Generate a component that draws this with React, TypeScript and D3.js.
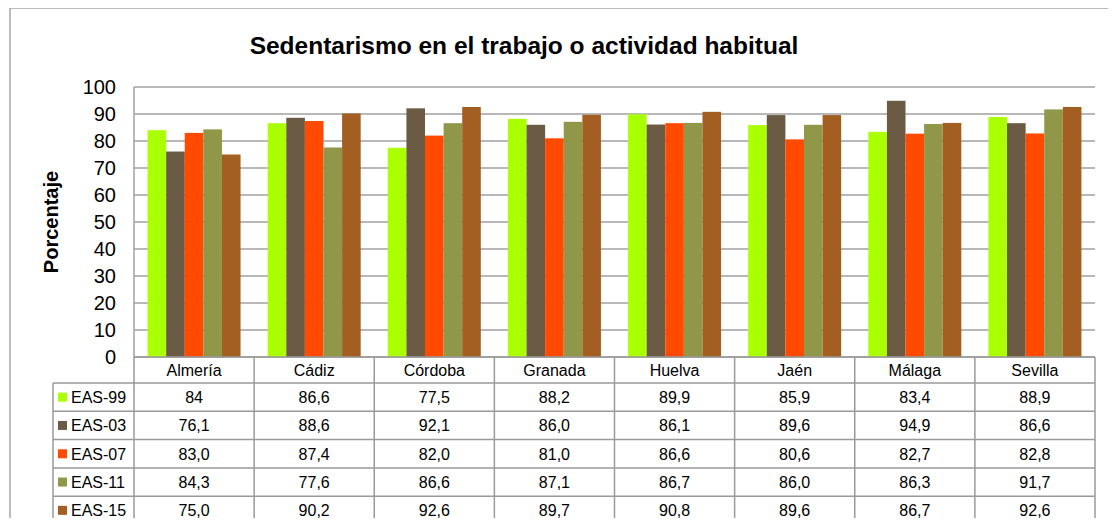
import * as d3 from "d3";

const categories = ["Almería", "Cádiz", "Córdoba", "Granada", "Huelva", "Jaén", "Málaga", "Sevilla"];
const seriesNames = ["EAS-99", "EAS-03", "EAS-07", "EAS-11", "EAS-15"];
const eas99 = [84, 86.6, 77.5, 88.2, 89.9, 85.9, 83.4, 88.9];
const eas03 = [76.1, 88.6, 92.1, 86.0, 86.1, 89.6, 94.9, 86.6];
const eas07 = [83.0, 87.4, 82.0, 81.0, 86.6, 80.6, 82.7, 82.8];
const eas11 = [84.3, 77.6, 86.6, 87.1, 86.7, 86.0, 86.3, 91.7];
const eas15 = [75.0, 90.2, 92.6, 89.7, 90.8, 89.6, 86.7, 92.6];
// texts as printed in the table (EAS-99 Almería has no decimal)
const labels99 = ["84", "86,6", "77,5", "88,2", "89,9", "85,9", "83,4", "88,9"];
const yTicks = [0, 10, 20, 30, 40, 50, 60, 70, 80, 90, 100];
const colors = ["#aaff00", "#6b5b45", "#ff4a00", "#909748", "#a35e22"];

const series = [eas99, eas03, eas07, eas11, eas15];
const W = 1116;
const H = 526;
const PLOT = { left: 134, right: 1095, top: 87, bottom: 357 };
const ROW_H = 28.3;
const HEADER_H = 26;
const LEGEND_LEFT = 53;
const FONT = '"Liberation Sans", Arial, sans-serif';

const fmt = (v: number) => v.toFixed(1).replace(".", ",");

export default function App() {
  const x0 = d3.scaleBand().domain(categories).range([PLOT.left, PLOT.right]).paddingInner(0).paddingOuter(0);
  // bars touch each other, with a gap of ~0.73 bar on each side of a group
  const x1 = d3.scaleBand().domain(seriesNames).range([0, x0.bandwidth()]).paddingOuter(0.73).paddingInner(0);
  const y = d3.scaleLinear().domain([0, 100]).range([PLOT.bottom, PLOT.top]);

  const tableTop = PLOT.bottom;
  const rowsTop = tableTop + HEADER_H;
  const tableBottom = rowsTop + ROW_H * seriesNames.length;

  return (
    <div style={{ margin: -8 }}>
      <svg width={W} height={H} style={{ display: "block", fontFamily: FONT }}>
        <rect x={0} y={0} width={W} height={H} fill="#fff" />
        <rect x={10} y={8} width={W + 20} height={H + 20} fill="none" stroke="#a6a6a6" strokeWidth={1.5} />
        <text x={524} y={54} textAnchor="middle" fontSize={24.5} fontWeight="bold" fill="#000">
          Sedentarismo en el trabajo o actividad habitual
        </text>

        {/* gridlines */}
        {yTicks.map((t) => (
          <line key={t} x1={PLOT.left} x2={PLOT.right} y1={y(t)} y2={y(t)} stroke="#a0a0a0" strokeWidth={1.5} />
        ))}
        <line x1={PLOT.left} x2={PLOT.left} y1={PLOT.top} y2={PLOT.bottom} stroke="#a0a0a0" strokeWidth={1.5} />

        {yTicks.map((t) => (
          <text key={t} x={116} y={y(t)} dy="0.36em" textAnchor="end" fontSize={20} fill="#000">
            {t}
          </text>
        ))}
        <text
          transform={`translate(58,${(PLOT.top + PLOT.bottom) / 2}) rotate(-90)`}
          textAnchor="middle"
          fontSize={20}
          fontWeight="bold"
        >
          Porcentaje
        </text>

        {/* bars */}
        {categories.map((c, i) => (
          <g key={c} transform={`translate(${x0(c)},0)`}>
            {series.map((s, j) => (
              <rect
                key={j}
                x={x1(seriesNames[j])}
                y={y(s[i])}
                width={x1.bandwidth()}
                height={y(0) - y(s[i])}
                fill={colors[j]}
              />
            ))}
          </g>
        ))}

        {/* data table */}
        <g stroke="#9a9a9a" strokeWidth={1.5} fill="none">
          <line x1={PLOT.left} x2={PLOT.right} y1={tableTop} y2={tableTop} />
          {d3.range(seriesNames.length + 1).map((k) => (
            <line key={k} x1={LEGEND_LEFT} x2={PLOT.right} y1={rowsTop + k * ROW_H} y2={rowsTop + k * ROW_H} />
          ))}
          <line x1={LEGEND_LEFT} x2={LEGEND_LEFT} y1={rowsTop} y2={tableBottom} />
          {categories.map((c) => (
            <line key={c} x1={x0(c)} x2={x0(c)} y1={tableTop} y2={tableBottom} />
          ))}
          <line x1={PLOT.right} x2={PLOT.right} y1={tableTop} y2={tableBottom} />
        </g>
        {categories.map((c) => (
          <text key={c} x={(x0(c) as number) + x0.bandwidth() / 2} y={tableTop + HEADER_H / 2} dy="0.36em" textAnchor="middle" fontSize={16}>
            {c}
          </text>
        ))}
        {seriesNames.map((name, j) => {
          const cy = rowsTop + j * ROW_H + ROW_H / 2;
          return (
            <g key={name}>
              <rect x={58} y={cy - 4.5} width={9} height={9} fill={colors[j]} />
              <text x={71} y={cy} dy="0.36em" fontSize={16}>
                {name}
              </text>
              {categories.map((c, i) => (
                <text key={c} x={(x0(c) as number) + x0.bandwidth() / 2} y={cy} dy="0.36em" textAnchor="middle" fontSize={16}>
                  {j === 0 ? labels99[i] : fmt(series[j][i])}
                </text>
              ))}
            </g>
          );
        })}
      </svg>
    </div>
  );
}
